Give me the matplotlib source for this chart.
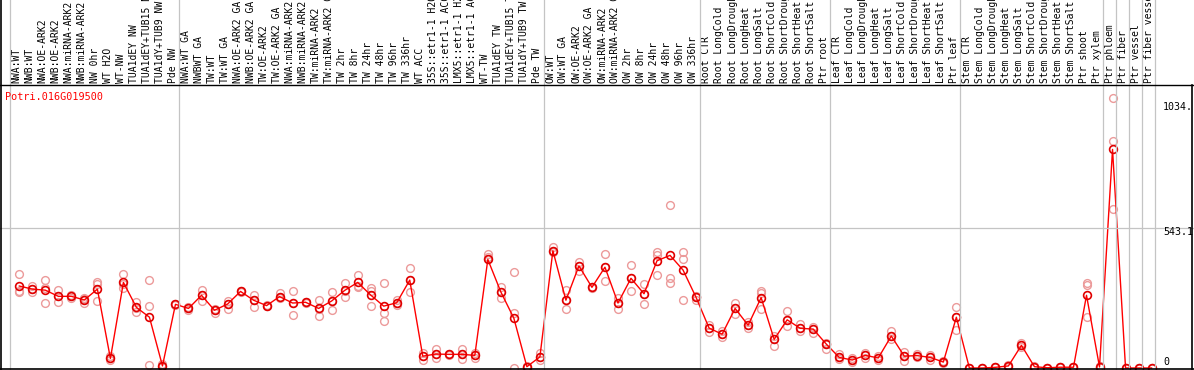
import matplotlib
matplotlib.use("Agg")
import matplotlib.pyplot as plt
from matplotlib.lines import Line2D
from matplotlib.transforms import blended_transform_factory

# ---------------- data ----------------
categories = [
    "NWA:WT", "NWB:WT", "NWA:OE-ARK2", "NWB:OE-ARK2", "NWA:miRNA-ARK2", "NWB:miRNA-ARK2",
    "NW 0hr", "WT H2O", "WT-NW", "TUA1dEY NW", "TUA1dEY+TUB15 NW", "TUA1dY+TUB9 NW", "Pde NW",
    "NWA:WT GA", "NWBWT GA", "TW:WT", "TW:WT GA", "NWA:OE-ARK2 GA", "NWB:OE-ARK2 GA",
    "TW:OE-ARK2", "TW:OE-ARK2 GA", "NWA:miRNA-ARK2 GA", "NWB:miRNA-ARK2 GA", "TW:miRNA-ARK2",
    "TW:miRNA-ARK2 GA", "TW 2hr", "TW 8hr", "TW 24hr", "TW 48hr", "TW 96hr", "TW 336hr", "WT ACC",
    "35S::etr1-1 H2O", "35S::etr1-1 ACC", "LMX5::etr1-1 H2O", "LMX5::etr1-1 ACC", "WT-TW",
    "TUA1dEY TW", "TUA1dEY+TUB15 TW", "TUA1dY+TUB9 TW", "Pde TW",
    "OW:WT", "OW:WT GA", "OW:OE-ARK2", "OW:OE-ARK2 GA", "OW:miRNA-ARK2", "OW:miRNA-ARK2 GA",
    "OW 2hr", "OW 8hr", "OW 24hr", "OW 48hr", "OW 96hr", "OW 336hr",
    "Root CTR", "Root LongCold", "Root LongDrought", "Root LongHeat", "Root LongSalt",
    "Root ShortCold", "Root ShortDrought", "Root ShortHeat", "Root ShortSalt", "Ptr root",
    "Leaf CTR", "Leaf LongCold", "Leaf LongDrought", "Leaf LongHeat", "Leaf LongSalt",
    "Leaf ShortCold", "Leaf ShortDrought", "Leaf ShortHeat", "Leaf ShortSalt", "Ptr leaf",
    "Stem CTR", "Stem LongCold", "Stem LongDrought", "Stem LongHeat", "Stem LongSalt",
    "Stem ShortCold", "Stem ShortDrought", "Stem ShortHeat", "Stem ShortSalt", "Ptr shoot",
    "Ptr xylem", "Ptr phloem", "Ptr fiber", "Ptr vessel", "Ptr fiber vessel",
]

means = [
    318, 306, 302, 278, 278, 264, 306, 37, 332, 235, 197, 8, 247,
    231, 282, 224, 248, 297, 263, 242, 277, 252, 255, 231, 260, 301, 332, 283, 240,
    253, 341, 46, 54, 53, 53, 49, 421, 295, 193, 5, 43,
    455, 263, 396, 313, 391, 252, 348, 288, 416, 437, 380, 274,
    155, 131, 231, 166, 273, 111, 187, 154, 151, 93,
    41, 31, 49, 39, 124, 46, 48, 41, 23, 197,
    0, 0, 2.6, 8, 88, 5, 1, 3, 3, 282, 4,
    848, 0, 0, 0,
]

replicates = [
    [363, 294, 300], [319, 294, 306], [341, 251, 310], [302, 257, 278], [283, 272, 278],
    [270, 253, 268], [335, 325, 260], [45, 31, 37], [363, 309, 325], [257, 218, 232],
    [341, 240, 12], [14, 3, 8], [247, 245, 249],
    [236, 224, 233], [302, 261, 283], [230, 215, 226], [261, 228, 250], [297, 295, 299],
    [283, 238, 265], [244, 240, 242], [292, 270, 277], [299, 204, 254], [257, 253, 255],
    [264, 203, 228], [295, 225, 260], [330, 274, 300], [361, 315, 320], [311, 239, 298],
    [330, 215, 182], [265, 245, 253], [387, 295, 341], [31, 46, 60], [75, 37, 54],
    [55, 51, 53], [72, 35, 55], [60, 49, 40], [442, 432, 421], [313, 270, 295],
    [371, 215, 0], [3, 5, 8], [59, 30, 43],
    [468, 455, 450], [302, 228, 263], [412, 376, 396], [315, 310, 313], [442, 339, 391],
    [273, 229, 252], [398, 299, 348], [326, 248, 288], [451, 437, 360], [632, 348, 328],
    [451, 421, 264], [264, 274, 280],
    [167, 141, 155], [143, 121, 131], [253, 209, 231], [180, 155, 166], [300, 290, 229],
    [124, 85, 111], [221, 164, 187], [170, 145, 154], [160, 135, 151], [98, 75, 93],
    [53, 33, 41], [40, 23, 31], [57, 40, 49], [47, 30, 39], [145, 114, 124],
    [63, 27, 46], [53, 42, 48], [50, 32, 41], [28, 20, 23], [238, 147, 197],
    [0, 0, 0], [0, 0, 0], [4, 2, 2], [12, 5, 7], [98, 80, 88], [8, 3, 5], [1, 1, 1],
    [3, 3, 3], [3, 3, 3], [331, 322, 199], [8, 2, 3],
    [1046, 879, 616], [0, 0, 0], [0, 0, 0], [0, 0, 0],
]

group_starts = [0, 13, 41, 53, 63, 73, 84, 85, 86, 87, 88]
ytick_values = ["1034.", "543.1", "0"]
gene = "Potri.016G019500"

# ---------------- layout ----------------
W, H = 1194, 370
fig = plt.figure(figsize=(W / 100, H / 100), dpi=100)
fig.patch.set_facecolor("white")

def fx(px):
    return px / W

def fy(py):
    return 1 - py / H

ax = fig.add_axes([fx(1), fy(369), fx(1156) - fx(1), fy(85) - fy(369)])
ax.set_xlim(-1.406, 87.34)
ax.set_ylim(-3.88, 1097.8)
ax.axis("off")

mono = "DejaVu Sans Mono"
red = "#ff0000"
pink = "#ec9a9a"
grey = "#c4c4c4"

xs = list(range(len(categories)))

# replicate points
for i, reps in enumerate(replicates):
    ax.plot([i] * len(reps), reps, linestyle="none", marker="o", markersize=5.6,
            markerfacecolor="none", markeredgecolor=pink, markeredgewidth=1.0,
            zorder=2, clip_on=False)

# mean line and points
ax.plot(xs, means, color=red, linewidth=1.0, zorder=3, clip_on=False)
ax.plot(xs, means, linestyle="none", marker="o", markersize=5.6,
        markerfacecolor="none", markeredgecolor="#e00000", markeredgewidth=1.2,
        zorder=4, clip_on=False)

# horizontal grey line at 543.1
fig.add_artist(Line2D([0, 1], [fy(228), fy(228)], transform=fig.transFigure,
                      color=grey, linewidth=0.9, zorder=1))

# vertical group lines over full height
bt = blended_transform_factory(ax.transData, fig.transFigure)
for g in group_starts:
    xg = g - 0.715
    fig.add_artist(Line2D([xg, xg], [fy(369), 1.0], transform=bt,
                          color=grey, linewidth=0.9, zorder=1))

# frame lines
fig.add_artist(Line2D([0, 1], [fy(85), fy(85)], transform=fig.transFigure,
                      color="black", linewidth=1.0, zorder=5))
fig.add_artist(Line2D([0, 1], [fy(369), fy(369)], transform=fig.transFigure,
                      color="black", linewidth=1.2, zorder=5))
fig.add_artist(Line2D([fx(1), fx(1)], [0, 1], transform=fig.transFigure,
                      color="black", linewidth=1.2, zorder=5))
fig.add_artist(Line2D([fx(1192), fx(1192)], [fy(369), fy(85)], transform=fig.transFigure,
                      color="black", linewidth=1.2, zorder=5))

# category labels (rotated, in header)
for i, lab in enumerate(categories):
    ax.text(i - 0.2, fy(83), lab, transform=bt, rotation=90, ha="center", va="bottom",
            fontsize=7, family=mono, color="black", clip_on=False)

# gene name
fig.text(fx(5), fy(97), gene, ha="left", va="center", fontsize=7.3,
         family=mono, color=red)

# right-side value labels
for lab, ypx in zip(ytick_values, [107, 232, 362]):
    fig.text(fx(1163), fy(ypx), lab, ha="left", va="center", fontsize=7.2,
             family=mono, color="black")

fig.savefig("out.png", dpi=100, facecolor="white")
